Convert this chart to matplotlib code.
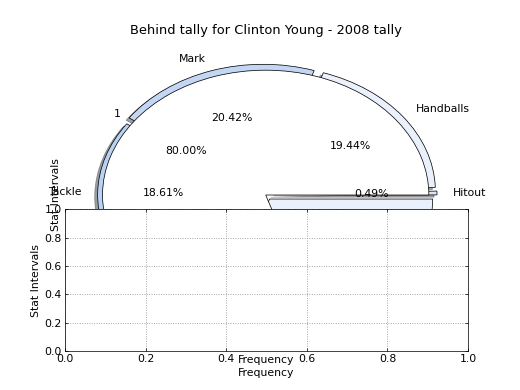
import matplotlib
matplotlib.use('Agg')
import matplotlib.pyplot as plt

# behind tally stats (visible wedges + the rest hidden under the lower axes)
stat_labels = ['Hitout', 'Handballs', 'Mark', 'Tackle', '', '']
stat_values = [0.49, 19.44, 20.42, 18.61, 11.04, 30.00]
stat_explode = [0.05, 0.05, 0.05, 0.03, 0.03, 0.04]
stat_colors = ['#dde6f5', '#eaf0fc', '#c3d6f4', '#b9d1f2', '#d2f2fa', '#eaf0fc']

overlay_labels = ['1']
overlay_values = [0.8]

title = 'Behind tally for Clinton Young - 2008 tally'

fig = plt.figure(figsize=(8, 6), dpi=65)
fig.subplots_adjust(left=0.125, right=0.9, bottom=0.1, top=0.9, hspace=0.2)

ax = fig.add_subplot(111)
wprops = dict(edgecolor='black', linewidth=0.8)
wedges, texts, autotexts = ax.pie(stat_values, labels=stat_labels, explode=stat_explode,
                                  colors=stat_colors, autopct='%1.2f%%', shadow=True,
                                  startangle=0, wedgeprops=wprops, frame=False,
                                  textprops=dict(fontsize=12))
for t in autotexts[4:]:
    t.set_visible(False)

ax.pie(overlay_values, labels=overlay_labels, colors=['white'], autopct='%1.2f%%',
       normalize=False, startangle=0, wedgeprops=wprops, frame=False,
       textprops=dict(fontsize=12))

ax.set_aspect('auto')
ax.set_xlim(-1.23, 1.24)
ax.set_ylim(-1.25, 1.25)
ax.set_xticks([])
ax.set_yticks([])
ax.set_frame_on(False)
ax.set_xlabel('Frequency', fontsize=12)
ax.set_ylabel('Stat Intervals', fontsize=12)
ax.set_title(title, fontsize=14.4)

ax2 = fig.add_subplot(212)
ax2.set_xlim(0, 1)
ax2.set_ylim(0, 1)
ax2.set_xticks([0.0, 0.2, 0.4, 0.6, 0.8, 1.0])
ax2.set_yticks([0.0, 0.2, 0.4, 0.6, 0.8, 1.0])
ax2.grid(True, linestyle=':', color='0.6', linewidth=1)
ax2.tick_params(direction='in', top=True, right=True, labelsize=12)
ax2.set_xlabel('Frequency', fontsize=12)
ax2.set_ylabel('Stat Intervals', fontsize=12)

plt.savefig('out.png', dpi=65)
